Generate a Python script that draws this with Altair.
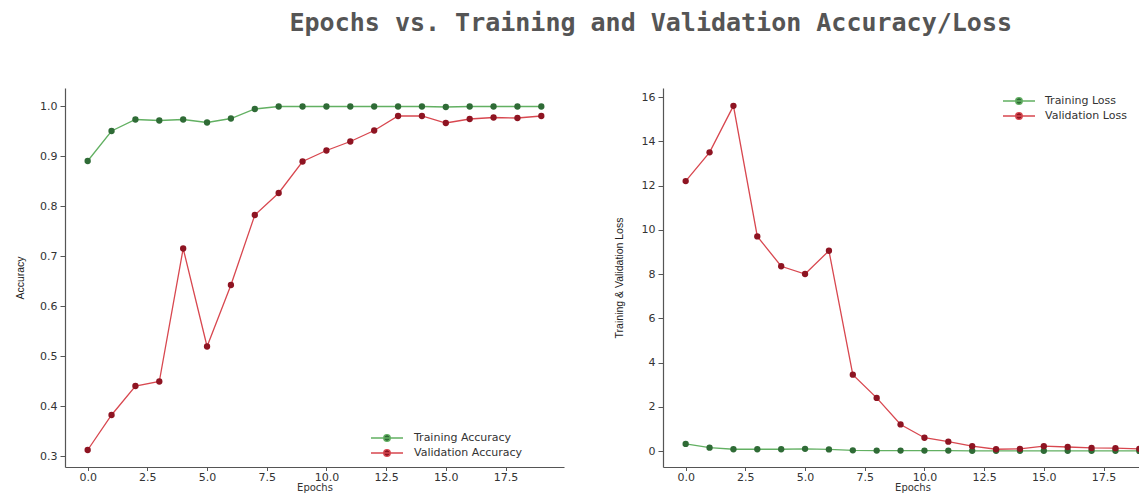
import altair as alt
import pandas as pd

# ---------------- data ----------------
epochs = list(range(20))

train_acc = [0.890, 0.950, 0.973, 0.971, 0.973, 0.967, 0.975, 0.994, 0.999, 0.999,
             0.999, 0.999, 0.999, 0.999, 0.999, 0.998, 0.999, 0.999, 0.999, 0.999]
val_acc = [0.312, 0.382, 0.440, 0.449, 0.715, 0.519, 0.642, 0.782, 0.826, 0.889,
           0.911, 0.929, 0.951, 0.980, 0.980, 0.966, 0.974, 0.977, 0.976, 0.980]

train_loss = [0.32, 0.15, 0.08, 0.08, 0.08, 0.10, 0.07, 0.03, 0.02, 0.02,
              0.02, 0.02, 0.01, 0.01, 0.01, 0.01, 0.01, 0.01, 0.01, 0.005]
val_loss = [12.2, 13.5, 15.6, 9.7, 8.35, 8.0, 9.05, 3.45, 2.4, 1.2,
            0.6, 0.42, 0.22, 0.08, 0.10, 0.22, 0.18, 0.14, 0.13, 0.10]

acc_series = ["Training Accuracy", "Validation Accuracy"]
loss_series = ["Training Loss", "Validation Loss"]

x_ticks = [0.0, 2.5, 5.0, 7.5, 10.0, 12.5, 15.0, 17.5]
acc_ticks = [0.3, 0.4, 0.5, 0.6, 0.7, 0.8, 0.9, 1.0]
loss_ticks = [0, 2, 4, 6, 8, 10, 12, 14, 16]

title_text = "Epochs vs. Training and Validation Accuracy/Loss"

# ---------------- styling ----------------
line_colors = ["#62b062", "#d8474f"]
point_colors = ["#2f6b36", "#8e1422"]
# line with a dot in the middle (legend symbol), size 144 -> 6 px per unit
SYM = ("M-2.67,0L2.67,0M-0.55,0A0.55,0.55 0 1,0 0.55,0"
       "A0.55,0.55 0 1,0 -0.55,0")
TICK_FONT = "DejaVu Sans"
AXT_FONT = "Liberation Sans"


def long_df(a, b, names):
    return pd.DataFrame({
        "epoch": epochs + epochs,
        "value": a + b,
        "series": [names[0]] * len(a) + [names[1]] * len(b),
    })


def panel(df, names, ylab, yticks, yfmt, ydomain, lx, ly, ytp, loff):
    x = alt.X("epoch:Q",
              scale=alt.Scale(domain=[-0.95, 19.95], nice=False, zero=False),
              axis=alt.Axis(values=x_ticks, format=".1f", title="Epochs",
                            titleFont=TICK_FONT, titleFontSize=10,
                            titleFontWeight="normal", titleColor="#333",
                            titlePadding=0, tickSize=3.5, labelPadding=1))
    y = alt.Y("value:Q",
              scale=alt.Scale(domain=ydomain, nice=False, zero=False),
              axis=alt.Axis(values=yticks, format=yfmt, title=ylab,
                            titleFont=AXT_FONT, titleFontSize=10.5,
                            titleFontWeight="normal", titleColor="#222",
                            titlePadding=ytp, tickSize=5, labelPadding=3))
    leg = alt.Legend(title=None, orient="none", legendX=lx, legendY=ly,
                     symbolType=SYM, symbolSize=144, symbolStrokeWidth=1.3,
                     labelFont=TICK_FONT, labelFontSize=11, labelColor="#333",
                     labelOffset=loff, rowPadding=2, padding=0)
    line = alt.Chart(df).mark_line(strokeWidth=1.3).encode(
        x=x, y=y,
        stroke=alt.Stroke("series:N",
                          scale=alt.Scale(domain=names, range=line_colors),
                          legend=leg),
    )
    pts = alt.Chart(df).mark_point(filled=True, size=40, opacity=1, strokeWidth=0).encode(
        x=x, y=y,
        fill=alt.Fill("series:N",
                      scale=alt.Scale(domain=names, range=point_colors),
                      legend=leg),
    )
    return alt.layer(line, pts).properties(width=499, height=379)


left = panel(long_df(train_acc, val_acc, acc_series), acc_series, "Accuracy",
             acc_ticks, ".1f", [0.278, 1.036], 315, 343, 14, 20)
right = panel(long_df(train_loss, val_loss, loss_series), loss_series,
              "Training & Validation Loss", loss_ticks, "d", [-0.723, 16.407],
              349, 6, 17, 19)

chart = alt.hconcat(left, right, spacing=50).resolve_scale(
    x="independent", y="independent", stroke="independent", fill="independent"
).properties(
    title=alt.TitleParams(title_text, font="DejaVu Sans Mono", fontWeight="bold",
                          fontSize=25, color="#555", anchor="middle",
                          offset=52, dx=62),
    autosize=alt.AutoSizeParams(type="none"),
    padding={"left": 57, "top": 80, "right": 1074, "bottom": 403},
    background="white",
).configure_view(stroke=None).configure_axis(
    grid=False, domainColor="#555", tickColor="#555", tickSize=4,
    labelFont=TICK_FONT, labelFontSize=11, labelColor="#333", labelPadding=1,
    domainWidth=1.2, tickWidth=1,
)

chart.save("out.html", embed_options={"renderer": "svg", "actions": False})
